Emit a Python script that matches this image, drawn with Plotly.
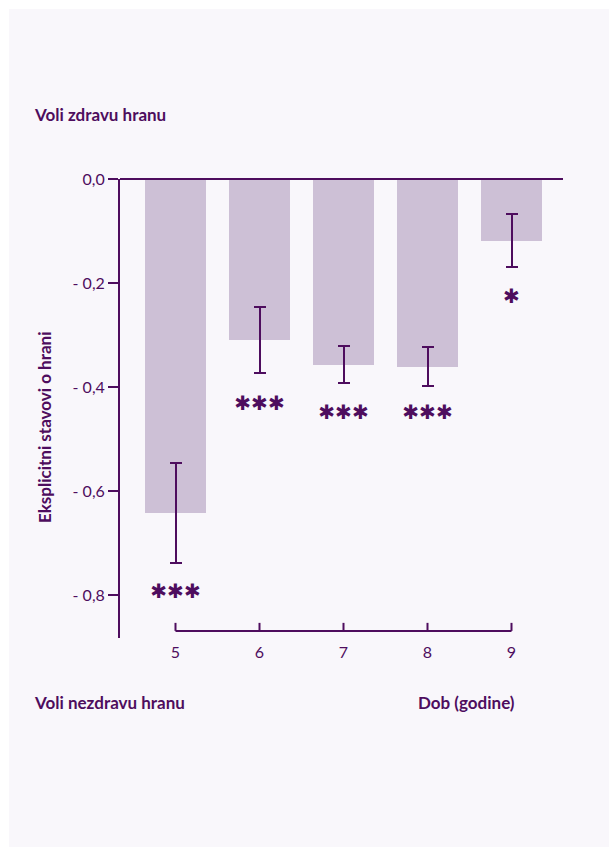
import plotly.graph_objects as go

# Age groups (years) and mean explicit food attitude scores
ages = [5, 6, 7, 8, 9]
means = [-0.642, -0.310, -0.357, -0.361, -0.119]
errors = [0.096, 0.064, 0.036, 0.037, 0.051]

# Significance markers and the level they sit at
sig_labels = ["***", "***", "***", "***", "*"]
sig_y = [-0.797, -0.435, -0.451, -0.451, -0.228]

# Y-axis ticks
y_ticks = [0.0, -0.2, -0.4, -0.6, -0.8]
y_tick_text = ["0,0", "- 0,2", "- 0,4", "- 0,6", "- 0,8"]

# Bottom bracket level
bracket_y = -0.869
bracket_tick = 0.0154

DARK = "#4e0d5e"
BAR = "#cdc0d6"
CARD = "#f9f7fb"
FONT = "Lato"

fig = go.Figure()

fig.add_trace(go.Bar(
    x=ages, y=means, width=0.726,
    marker=dict(color=BAR, line=dict(width=0)),
    error_y=dict(type="data", array=errors, symmetric=True,
                 color=DARK, thickness=2, width=6),
    hoverinfo="skip", showlegend=False,
))

fig.add_trace(go.Scatter(
    x=ages, y=sig_y, mode="text",
    text=[s.replace("*", "\u2731") for s in sig_labels],
    textfont=dict(family="DejaVu Sans", size=20, color=DARK),
    textposition="middle center",
    hoverinfo="skip", showlegend=False, cliponaxis=False,
))

shapes = [
    # card background
    dict(type="rect", xref="paper", yref="paper", layer="below",
         x0=-111 / 443, x1=1 + 60 / 443, y0=-230 / 459, y1=1 + 170 / 459,
         fillcolor=CARD, line=dict(width=0)),
    # zero line across the top
    dict(type="line", xref="paper", yref="paper", x0=0, x1=1, y0=1, y1=1,
         line=dict(color=DARK, width=2)),
    # bottom age bracket
    dict(type="line", xref="x", yref="y", x0=ages[0], x1=ages[-1],
         y0=bracket_y, y1=bracket_y, line=dict(color=DARK, width=2)),
]
for a in ages:
    shapes.append(dict(type="line", xref="x", yref="y", x0=a, x1=a,
                       y0=bracket_y, y1=bracket_y + bracket_tick,
                       line=dict(color=DARK, width=2)))

annotations = [
    dict(text="<b>Voli zdravu hranu</b>", xref="paper", yref="paper",
         x=-88 / 443, y=1 + 64 / 459, xanchor="left", yanchor="middle",
         showarrow=False, font=dict(family=FONT, size=17, color=DARK)),
    dict(text="<b>Voli nezdravu hranu</b>", xref="paper", yref="paper",
         x=-88 / 443, y=-64 / 459, xanchor="left", yanchor="middle",
         showarrow=False, font=dict(family=FONT, size=17, color=DARK)),
    dict(text="<b>Dob (godine)</b>", xref="paper", yref="paper",
         x=(517 - 120) / 443, y=-64 / 459, xanchor="right", yanchor="middle",
         showarrow=False, font=dict(family=FONT, size=17, color=DARK)),
    dict(text="<b>Eksplicitni stavovi o hrani</b>", xref="paper", yref="paper",
         x=-76 / 443, y=(638 - 428) / 459, xanchor="center", yanchor="middle",
         textangle=-90, showarrow=False,
         font=dict(family=FONT, size=17, color=DARK)),
]

fig.update_layout(
    width=609, height=847,
    margin=dict(l=120, r=46, t=179, b=209),
    paper_bgcolor="white", plot_bgcolor="rgba(0,0,0,0)",
    shapes=shapes, annotations=annotations,
    bargap=0,
    font=dict(family=FONT, size=16, color=DARK),
)

fig.update_xaxes(
    range=[5 - 55.5 / 84, 5 + 387.5 / 84],
    tickvals=ages, ticktext=[str(a) for a in ages],
    ticks="", showline=False, showgrid=False, zeroline=False,
    tickfont=dict(family=FONT, size=16, color=DARK),
    ticklabelstandoff=3,
    fixedrange=True,
)
fig.update_yaxes(
    range=[-(638 - 179) / 520, 0],
    tickvals=y_ticks, ticktext=y_tick_text,
    ticks="outside", ticklen=10, tickwidth=2, tickcolor=DARK,
    showline=True, linewidth=2, linecolor=DARK,
    showgrid=False, zeroline=False,
    tickfont=dict(family=FONT, size=16, color=DARK),
    fixedrange=True,
)

fig.write_html("out.html")
